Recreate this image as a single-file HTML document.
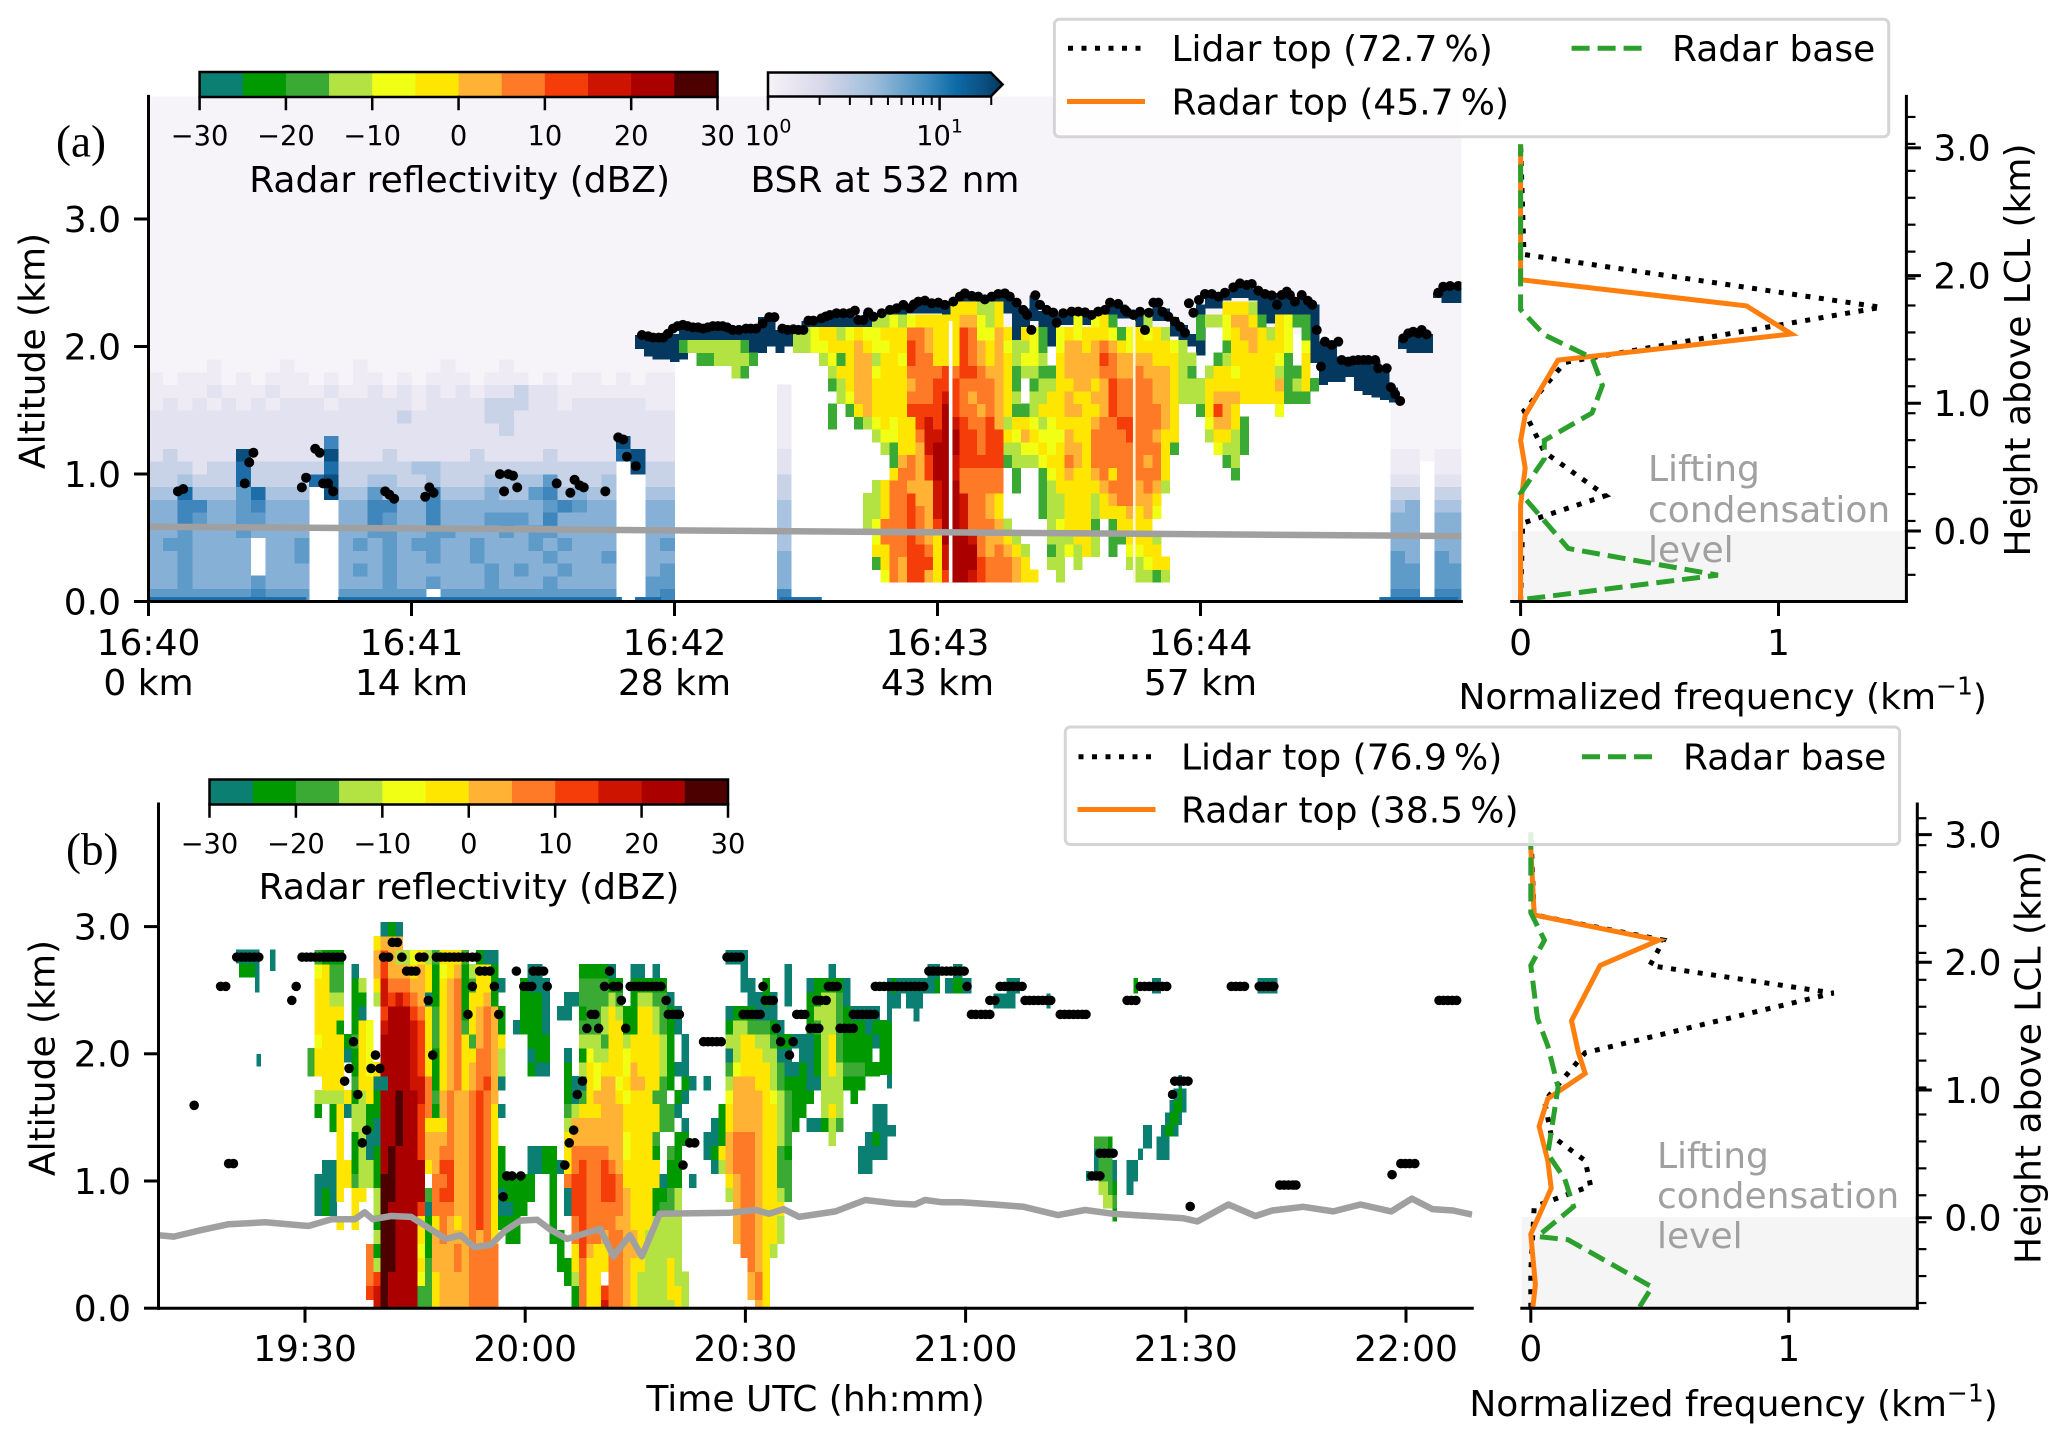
<!DOCTYPE html>
<html lang="en">
<head>
<meta charset="utf-8">
<title>Cloud top and base statistics from radar and lidar</title>
<style>
html,body{margin:0;padding:0;background:#fff;}
svg{display:block;}
text{font-family:"DejaVu Sans","Liberation Sans",sans-serif;font-size:36px;fill:#000;dominant-baseline:central;}
.mid{text-anchor:middle;}
.end{text-anchor:end;}
.small{font-size:27.3px;}
.gray{fill:#a0a0a0;}
.serif{font-family:"Liberation Serif",serif;font-size:45px;}
</style>
</head>
<body>
<svg id="chart" xmlns="http://www.w3.org/2000/svg" width="2067" height="1442" viewBox="0 0 2067 1442">
<defs>
<clipPath id="clip-a"><rect x="148.5" y="96.4" width="1312.9" height="505.1"/></clipPath>
<clipPath id="clip-b"><rect x="158.5" y="804" width="1313.8" height="504.2"/></clipPath>
<linearGradient id="bsr-gradient" x1="0" x2="1" y1="0" y2="0">
<stop offset="0" stop-color="#f6f2f8"/><stop offset=".22" stop-color="#d9d9ea"/><stop offset=".45" stop-color="#9ebddb"/>
<stop offset=".68" stop-color="#3f8dc0"/><stop offset=".8" stop-color="#0d6ba6"/><stop offset=".92" stop-color="#0b4f80"/><stop offset="1" stop-color="#04365c"/>
</linearGradient>
</defs>
<rect x="0" y="0" width="2067" height="1442" fill="#fff"/>

<g id="plot-a" clip-path="url(#clip-a)"></g>
<g id="axes-a"></g>
<g id="cbar-a"></g>
<g id="cbar-bsr">
  <polygon points="768,72.5 990.7,72.5 1002.6,84.5 990.7,96.5 768,96.5" fill="url(#bsr-gradient)" stroke="#000" stroke-width="2.5"/>
</g>
<text class="small mid" x="768" y="135.4">10<tspan font-size="19" dy="-10">0</tspan></text>
<text class="small mid" x="939.6" y="135.4">10<tspan font-size="19" dy="-10">1</tspan></text>
<text class="mid" x="459.6" y="179">Radar reflectivity (dBZ)</text>
<text class="mid" x="885" y="179">BSR at 532 nm</text>
<text class="serif" x="56" y="140">(a)</text>
<text class="mid" transform="translate(33 351) rotate(-90)">Altitude (km)</text>

<rect x="1511.7" y="531" width="394.7" height="70.5" fill="#f5f5f5"/>
<g id="profile-a"></g>
<g id="axes-pa"></g>
<text class="gray" x="1648" y="468">Lifting</text>
<text class="gray" x="1648" y="509">condensation</text>
<text class="gray" x="1648" y="549">level</text>
<text class="mid" x="1722.7" y="696">Normalized frequency (km<tspan font-size="25" dy="-12">−1</tspan><tspan dy="12">)</tspan></text>
<text class="mid" transform="translate(2018.7 350) rotate(-90)">Height above LCL (km)</text>
<g>
  <rect x="1054.4" y="19.3" width="834.3" height="117.5" rx="5" fill="#fff" fill-opacity=".85" stroke="#d5d5d5" stroke-width="3"/>
  <line x1="1068" x2="1144" y1="48.2" y2="48.2" stroke="#000" stroke-width="5" stroke-dasharray="5 8.5"/>
  <text x="1171.5" y="48">Lidar top (72.7&#8201;%)</text>
  <line x1="1067" x2="1145" y1="101.5" y2="101.5" stroke="#ff7f0e" stroke-width="5"/>
  <text x="1171.5" y="101.5">Radar top (45.7&#8201;%)</text>
  <line x1="1571.6" x2="1644" y1="48.2" y2="48.2" stroke="#2ca02c" stroke-width="5" stroke-dasharray="18 8"/>
  <text x="1672" y="48">Radar base</text>
</g>

<g id="plot-b" clip-path="url(#clip-b)"></g>
<g id="axes-b"></g>
<g id="cbar-b"></g>
<text class="mid" x="469" y="886">Radar reflectivity (dBZ)</text>
<text class="serif" x="66" y="848">(b)</text>
<text class="mid" transform="translate(43 1058) rotate(-90)">Altitude (km)</text>
<text class="mid" x="815.6" y="1398">Time UTC (hh:mm)</text>

<rect x="1521.8" y="1217" width="395.5" height="91" fill="#f5f5f5"/>
<g id="profile-b"></g>
<g id="axes-pb"></g>
<text class="gray" x="1657" y="1155">Lifting</text>
<text class="gray" x="1657" y="1195">condensation</text>
<text class="gray" x="1657" y="1235">level</text>
<text class="mid" x="1733.6" y="1403">Normalized frequency (km<tspan font-size="25" dy="-12">−1</tspan><tspan dy="12">)</tspan></text>
<text class="mid" transform="translate(2029 1057.5) rotate(-90)">Height above LCL (km)</text>
<g>
  <rect x="1065.3" y="727" width="834.3" height="117.5" rx="5" fill="#fff" fill-opacity=".85" stroke="#d5d5d5" stroke-width="3"/>
  <line x1="1078.5" x2="1154.5" y1="756.7" y2="756.7" stroke="#000" stroke-width="5" stroke-dasharray="5 8.5"/>
  <text x="1181" y="756.5">Lidar top (76.9&#8201;%)</text>
  <line x1="1077.5" x2="1155.5" y1="809.5" y2="809.5" stroke="#ff7f0e" stroke-width="5"/>
  <text x="1181" y="809.5">Radar top (38.5&#8201;%)</text>
  <line x1="1582" x2="1654.5" y1="756.7" y2="756.7" stroke="#2ca02c" stroke-width="5" stroke-dasharray="18 8"/>
  <text x="1683" y="756.5">Radar base</text>
</g>
</svg>

<script>
/* ---------- colour scales ---------- */
const dbzColors = ["#0a7f72","#009a00","#3aaa35","#b2e342","#f0ff14","#ffe600","#ffb233","#ff7a27","#f53d0a","#cc1400","#aa0000","#4d0000"];
const dbzTicks = [-30,-20,-10,0,10,20,30];
const bsrColors = ["#f6f3f9","#eeebf5","#e2e2f0","#c9d3e8","#aac3e0","#86b0d6","#5f9bc9","#3f86bc","#1d6ea8","#0b4f80"];
const bsrMinorDecades = [2,3,4,5,6,7,8,9,20];
const bsrMajorDecades = [1,10];

/* ---------- panel (a) tick labels ---------- */
const altTicks = [0,1,2,3];
const altTickLabels = ["0.0","1.0","2.0","3.0"];
const timeTicksA = [0,1,2,3,4];
const timeLabelsA = ["16:40","16:41","16:42","16:43","16:44"];
const distLabelsA = ["0 km","14 km","28 km","43 km","57 km"];

/* ---------- panel (a) lidar backscatter ratio: rows from 0.05 km upward, 3.33 s columns, level 0-9, w = no signal ---------- */
const G = "w".repeat(30);
const bsrRowsA = [
"6666666766 6ww666666w 6666666666 66ww67wwww www7wwwwww"+G+"wwwww77w77",
"5565555655 5ww5556556 5556555655 55ww66wwww www5wwwwww"+G+"wwwww66w66",
"5565555w55 5ww5656555 5556565565 55ww56wwww www5wwwwww"+G+"wwwww66w66",
"5565555w55 6ww5556556 5565555655 56ww55wwww www5wwwwww"+G+"wwwww65w65",
"5665555w55 6ww5656566 5565556565 55ww56wwww www4wwwwww"+G+"wwwww55w55",
"5565556555 5ww5566556 6555656655 55ww55wwww www4wwwwww"+G+"wwwww55w55",
"5576556655 5ww5576557 5556665755 55ww55wwww www4wwwwww"+G+"wwwww55w55",
"5577556755 5ww5577557 5555555676 55ww55wwww www4wwwwww"+G+"wwwww45w44",
"4484446844 4w94464447 4445446745 44ww44wwww www3wwwwww"+G+"wwwww33w33",
"3343338333 3893344334 3334444633 34ww33wwww www3wwwwww"+G+"wwwww22w22",
"3332338333 3383333344 3333333333 33w933wwww www2wwwwww"+G+"wwwww11w11",
"2322229222 2292223222 2232222322 228922wwww www2wwwwww"+G+"wwwww11011",
"2222222222 2272222222 2222222222 229222wwww www1wwwwww"+G+"wwwww00000",
"2222222222 2222222222 2222322222 222222wwww www1wwwwww"+G+"wwwww00000",
"2222222222 2222222322 2223322222 222222wwww www1wwwwww"+G+"wwwww00000",
"1212121212 2212222212 2223332212 222211wwww www1wwwwww"+G+"wwwww00000",
"1111211121 1121121212 1212232211 111111wwww www1wwwwww"+G+"wwww000000",
"1011101011 1010110101 1101110101 101011wwww wwwwwwwwww"+G+"wwww000000",
"0000100001 0000100000 1000100000 000000wwww wwwwwwwwww"+G+"wwww000000",
"0000000000 0000000000 0000000000 000000wwww wwwwwwwwww"+G+"w000000000",
"0000000000 0000000000 0000000000 000000wwww wwwwwwwwww"+G+"w000000000",
"0000000000 0000000000 0000000000 0000000000 0000000000 0000000000 0000000000 00ww000000 0000000000",
"0","0","0","0","0","0","0","0","0","0","0","0","0","0","0","0","0","0"
];
const surfaceEchoSpansA = [[0,0.6],[0.72,1.8],[1.85,1.95],[2.4,2.56],[4.68,4.98]];

/* saturated lidar layer under cloud top, one value per 2 s column from 16:41:51 */
const capTopA = [2.09,2.09,2.08,2.08,2.1,2.14,2.17,2.15,2.14,2.16,2.16,2.13,2.14,2.14,2.23,2.2,2.13,2.13,2.14,2.2,2.21,2.25,2.26,2.26,2.27,2.21,2.27,2.25,2.27,2.3,2.33,2.3,2.36,2.36,2.34,2.34,2.36,2.41,2.4,2.39,2.38,2.41,2.41,2.35,2.3,2.4,2.28,2.25,2.25,2.28,2.28,2.27,2.25,2.28,2.34,2.33,2.29,2.25,2.26,2.34,2.3,2.23,2.17,2.1,2.33,2.4,2.41,2.44,2.49,2.48,2.45,2.41,2.4,2.42,2.41,2.38,2.39,2.33,2.04,2.02,1.92,1.89,1.89,1.89,1.89,1.83,1.68,2.05,2.1,2.1,2.1,2.42,2.46,2.46,2.46];
const capBaseA = [1.98,1.92,1.9,1.9,1.88,1.9,2.0,2.05,2.05,2.05,2.05,1.95,1.85,1.85,1.95,2.0,1.95,2.0,2.1,2.12,2.13,2.13,2.13,2.15,2.15,2.15,2.15,2.2,2.22,2.22,2.25,2.26,2.26,2.26,2.26,2.13,2.3,2.3,2.3,2.3,2.3,2.28,2.26,2.05,2.05,2.2,2.0,2.0,2.17,2.17,2.17,2.17,2.17,2.22,2.22,2.22,2.22,2.0,2.2,2.2,2.2,2.08,2.05,2.0,1.93,2.3,2.3,2.36,2.38,2.38,2.36,2.2,2.18,2.2,2.2,2.15,2.2,1.87,1.7,1.72,1.72,1.76,1.65,1.62,1.6,1.58,1.56,1.98,1.95,1.95,1.95,2.38,2.34,2.34,2.34];

/* ---------- panel (a) radar reflectivity: rows from 0.2 km upward, 2 s columns from 16:41:57, codes index dbzColors ---------- */
const D15 = ".".repeat(15);
const radarRowsA = [
D15+".......... 47688658aa 98777655.. 3........ 3323.................",
D15+".........2 57688859aa a877765..3 3.3.....3 3455.................",
D15+".........5 57788759aa a767653..2 34353.2.4 455..................",
D15+".........4 7778765aaa 976653...3 33553.225 553..................",
D15+"........34 7778768aa9 77763....3 45552.255 55...................",
D15+"........33 5778769aa9 7765....23 355535556 564..................",
D15+"........33 5778669aa9 7765....23 355535677 665..................",
D15+".........3 5776669aa7 7777.2..23 555556777 6763.................",
D15+".......... .57768aa97 7777.2..24 565567577 7775.......2.........",
D15+".......... .26768aa98 8888233345 576577777 7675......23.........",
D15+".......... 325569aaa8 8788334454 566577777 77752....4332........",
D15+".........3 4455799aa8 8788546544 465577778 77655...35532........",
D15+"....2..234 5455898a98 7786355434 555567788 77765...46652........",
D15+"....2.2565 5558888a87 7676522355 566556877 77765..25865....4....",
D15+".....34665 5557778987 677653.335 565566877 77665333566655555222.",
D15+"....235665 5556778887 777652.233 556656877 776653335555555562352",
"........32..... ....355664 5557777878 8766523322 566667766 7666532.355455553225.",
"....2233332.... ...3425663 5548775558 765653443. 566668766 6655533..235555542.5.",
"..23333332..... 3344555654 4558765558 765643342. 466567654 555543....25565554.4.",
D15+"3345534544 5557765558 74465.542. 454555424 5453...2..45665354.2.",
D15+".........3 3434555556 6435...... ..4.452.. .3.....23346652.5422.",
D15+".......... ........55 5335...... ......... ..........5553......."
];
const radarGapTimesA = [3.05,3.75];

/* ---------- panel (a) lidar cloud-top detections: [minutes after 16:40, km] ---------- */
const lidarTopA = [
[.112,.864],[.132,.882],[.366,.926],[.383,1.091],[.399,1.167],[.583,.895],[.599,.971],[.634,1.198],[.651,1.167],[.664,.926],[.683,.926],[.702,.864],[.9,.864],[.916,.838],[.934,.806],[1.052,.822],[1.068,.895],[1.084,.853],[1.336,.999],[1.352,.864],[1.368,.999],[1.386,.987],[1.402,.895],[1.552,.926],[1.604,.853],[1.62,.955],[1.639,.911],[1.655,.895],[1.737,.864],[1.786,1.287],[1.805,1.271],[1.819,1.136],[1.853,1.062],
[1.876,2.09],[1.9,2.08],[1.919,2.07],[1.94,2.07],[1.957,2.07],[1.975,2.1],[1.994,2.14],[2.012,2.16],[2.032,2.17],[2.05,2.16],[2.07,2.15],[2.09,2.15],[2.108,2.14],[2.127,2.15],[2.146,2.16],[2.165,2.16],[2.183,2.16],[2.2,2.15],[2.221,2.13],[2.245,2.13],[2.272,2.14],[2.29,2.14],[2.31,2.14],[2.335,2.18],[2.36,2.23],[2.38,2.23],[2.41,2.14],[2.43,2.13],[2.452,2.135],[2.471,2.13],[2.49,2.13],[2.509,2.203],[2.528,2.203],[2.559,2.221],[2.575,2.235],[2.591,2.247],[2.616,2.261],[2.642,2.261],[2.667,2.261],[2.686,2.281],[2.699,2.208],[2.718,2.208],[2.737,2.268],[2.756,2.234],[2.788,2.261],[2.819,2.287],[2.845,2.3],[2.87,2.326],[2.895,2.3],[2.91,2.33],[2.927,2.352],[2.952,2.36],[2.978,2.339],[3.003,2.344],[3.028,2.326],[3.06,2.352],[3.085,2.391],[3.104,2.417],[3.13,2.397],[3.155,2.391],[3.18,2.37],[3.206,2.391],[3.231,2.412],[3.256,2.417],[3.275,2.391],[3.301,2.344],[3.326,2.287],[3.341,2.247],[3.357,2.13],[3.372,2.402],[3.39,2.326],[3.415,2.287],[3.44,2.266],[3.453,2.187],[3.478,2.261],[3.51,2.274],[3.535,2.274],[3.561,2.268],[3.586,2.247],[3.611,2.274],[3.637,2.287],[3.656,2.344],[3.687,2.334],[3.713,2.287],
[3.719,2.273],[3.745,2.247],[3.77,2.273],[3.789,2.129],[3.804,2.265],[3.821,2.344],[3.84,2.344],[3.855,2.273],[3.878,2.234],[3.903,2.195],[3.922,2.156],[3.941,2.108],[3.956,2.339],[3.973,2.265],[3.994,2.365],[4.017,2.412],[4.043,2.412],[4.068,2.391],[4.093,2.422],[4.125,2.464],[4.15,2.495],[4.176,2.482],[4.195,2.49],[4.22,2.438],[4.245,2.412],[4.271,2.401],[4.291,2.328],[4.309,2.404],[4.328,2.43],[4.34,2.404],[4.359,2.352],[4.385,2.404],[4.408,2.359],[4.425,2.328],[4.442,2.129],[4.458,1.842],[4.473,2.038],[4.499,2.012],[4.524,2.038],[4.537,1.894],[4.562,1.881],[4.58,1.89],[4.6,1.894],[4.62,1.894],[4.638,1.894],[4.664,1.894],[4.676,1.829],[4.708,1.829],[4.724,1.68],[4.74,1.627],[4.759,1.573],[4.771,2.064],[4.79,2.103],[4.809,2.116],[4.828,2.103],[4.841,2.129],[4.86,2.095],[4.904,2.422],[4.923,2.469],[4.949,2.475],[4.98,2.475]
];

/* ---------- lifting condensation level ---------- */
const lclTimesA = [0,1,2,3,4,5];
const lclAltsA = [.587,.573,.558,.543,.528,.513];
const lclTimesB = [10.04,12.12,15.55,19.61,24.58,30.46,33.62,36.78,38.13,39.22,41.75,44.46,46.26,49.15,51.23,53.04,55.3,57.28,59.36,61.62,63.43,65.69,70.2,72.01,74.27,75.89,78.33,87.82,91.43,93.24,95.22,97.3,102.27,106.33,110.4,113.11,114.47,116.73,119.44,123.95,127.9,132.6,136.3,140,149.7,151.6,155.8,159.5,161.8,166,170.1,173.8,178,180.8,183.6,186.4,189];
const lclAltsB = [.573,.563,.61,.66,.675,.646,.7,.7,.754,.7,.725,.718,.653,.545,.573,.48,.498,.61,.689,.696,.617,.545,.624,.407,.573,.407,.743,.75,.772,.743,.779,.718,.761,.851,.823,.815,.851,.833,.833,.815,.797,.732,.772,.743,.707,.682,.815,.725,.768,.797,.761,.815,.761,.862,.779,.768,.736];

/* ---------- panel (a) normalized-frequency profiles ---------- */
const freqTicks = [0,1];
const heightTicks = [0,1,2,3];
const heightLabels = ["0.0","1.0","2.0","3.0"];
const lidarFreqA = [0,.008,.33,.092,.013,.172,1.398,.013,0];
const lidarHeightA = [-.55,.061,.277,.619,.942,1.32,1.752,2.165,3.03];
const radarTopFreqA = [0,0,.018,0,.018,.145,1.05,.876,0,0];
const radarTopHeightA = [-.55,.205,.493,.709,.906,1.338,1.543,1.763,1.968,3.029];
const radarBaseFreqA = [.026,.765,.185,0,.092,.092,.277,.317,.277,.092,0,0];
const radarBaseHeightA = [-.532,-.345,-.137,.295,.565,.709,.924,1.14,1.356,1.536,1.734,3.029];

/* ---------- panel (b) tick labels ---------- */
const timeTicksB = [30,60,90,120,150,180];
const timeLabelsB = ["19:30","20:00","20:30","21:00","21:30","22:00"];

/* ---------- panel (b) radar reflectivity: rows at 0.11 km spacing from 0.01 km, 1 min columns from 19:29:19 ---------- */
const radarRowsB = [
".......... 9baaaa2256 6667777... .......175 5977653333 353....... ..65...... ..........",
".........8 9baaaa2256 6667777... .......175 5877653333 553....... .675...... ..........",
".........7 8baaaa4256 6667777... ......1375 5.77653333 533....... .675...... ..........",
".........7 3bbaaa5266 6767777... .....11575 5577655333 53........ .765...... ..........",
".........7 1bbaaa4166 6767777... .....1.586 5577665333 33........ 77653..... ..........",
".......... 3bbaaa5167 6667675.11 ....11.787 7677665333 33.......6 776553.... ..........",
".....5.5.. 1bbaaa5157 6567875111 ....1..787 7776655533 33.......6 776553.... ..........",
"..010..5.. 3baaaa8077 7667875001 1...1.0887 7777655512 23.......6 776555.... ..........",
"..0105.55. 3bbaaaa278 8667875011 11..1.0887 7887655511 23......36 7765532... ..........",
"..00055233 1bbaaaa.77 8667875111 11..1.7887 7887555550 11.0....56 7765522... ..........",
"...0055133 1abaaaa568 86678751.. .001105787 787655555. 11....0367 7765522... ......00..",
".....5.130 1abaaa8667 76678751.. .0011.5777 776645551. 21...01567 7765521... ......0000",
".....5.130 0aabaa8666 7667875... ......5666 666645552. .11..00167 7765532... ..3....010",
"....15.331 0aabaa8555 7667875... ......3666 6666555552 2.0...0156 66655321.0 0132....00",
"..1.150331 1aabaa8716 76678750.. ......2355 5666555552 20.....156 666553211. .353....00",
"..33335135 1aabaa9726 7667876... ......1025 6665455522 .10.....46 6665432111 .333.1....",
"...555.255 00aaa99715 67567860.. ......1005 4664566552 1.10.0..36 6655321110 0333111...",
".25555.154 5aaaa98515 67567763.. .100..1.35 4555465553 100.....24 5555320010 135322211.",
".255550154 .aaaa98515 67557763.. .011..0.14 3355455553 1.0.....03 5553300.00 13521111.1",
"..45551254 .aaaa98525 67526765.. .111....33 3255355553 1.0.....33 5533211000 1352111101",
"..5551.154 .9aaa98525 67256761.0 1110....22 2355115532 10......13 322210...1 2332111011",
"..5555.10. .8aaa87525 67156761.. 1110.00.12 2353115532 10......01 11000....1 333210000.",
"..5533.11. 3989876015 6715561... 1110..0022 2232.13322 0......... .0010.0..1 13320.....",
"..5522.13. 5977766515 67125510.. 1000....22 2211.11111 .......... 00.1..0..0 11110.....",
"..4522.0.. 6866656514 5613551... .00.....11 110..00.0. .......... 0.....0... ..0.......",
"..2111.... 6863345325 552.100... .......... .......... ........00 0......... ..........",
".......... 5666...... .......... ..........",
".......... .010...... .......... .........."
];
/* sparse echoes outside the main grid: [start min, end min, low km, high km, code] */
const radarPatchesB = [
[20.6,23.8,2.71,2.82,0],[21,23.2,2.6,2.71,1],[23.2,23.8,2.48,2.71,0],[25.2,26,2.65,2.82,0],[23.4,24,1.9,2,0],
[114.8,116.5,2.594,2.706,0],[118.3,119.6,2.594,2.706,0],[109.3,115.8,2.476,2.594,0],[110,110.5,2.476,2.594,1],[115.8,116.5,2.476,2.594,1],[117.2,120.8,2.476,2.594,0],[118.3,119.6,2.476,2.594,1],[125.6,127.4,2.476,2.594,0],[142.9,143.5,2.476,2.594,1],[145.4,146.6,2.476,2.594,0],[159.8,162.5,2.476,2.594,0],
[109.3,111.2,2.358,2.476,0],[111.9,114.2,2.358,2.476,0],[123.8,126.8,2.358,2.476,0],[131,131.6,2.358,2.476,0],[109.3,110,2.253,2.358,0],[112.9,113.7,2.253,2.358,0],
[108.3,110,1.834,2.253,1],[109.3,110,1.729,1.834,0],[108.3,108.8,1.166,1.538,0],[109.3,110.5,1.349,1.441,0],
[137.5,140,1.257,1.349,2],[139.4,140,1.257,1.349,1],[137.5,138.1,1.061,1.257,0],[138.1,140,.995,1.257,2],[140,140.6,.995,1.166,0],[136.4,136.9,1,1.08,0],[138.1,139.4,.89,.995,3],[139.4,140,.89,.995,2],[140,140.6,.89,.995,1],[138.7,140,.785,.89,3],[140,140.6,.785,.89,2],[140,140.6,.681,.785,1],
[141.9,143.5,.995,1.166,0],[141.9,142.9,.89,.995,0],[143.5,144.2,1.166,1.257,0],[144.2,145.4,1.257,1.441,0],[146,147.8,1.166,1.349,0],[146.6,147.2,1.349,1.441,0],[147.2,148.3,1.349,1.441,1],[148.3,149,1.349,1.441,0],[147.2,147.8,1.441,1.538,0],[147.8,149,1.441,1.538,1],[149,149.5,1.441,1.538,0],[147.8,148.3,1.538,1.637,0],[148.3,149.5,1.538,1.637,1],[149.5,150.1,1.538,1.637,0],[148.3,149,1.637,1.729,0],[149,149.5,1.637,1.729,1],[149.5,150.1,1.637,1.729,0],[149,149.5,1.729,1.834,0]
];

/* ---------- panel (b) lidar cloud-top detections: [km, minutes after 19:00 ...] ---------- */
const lidarTopB = [
[2.876,[41.9,42.6]],
[2.76,[20.7,21.3,21.9,22.5,23.1,23.7,29.6,30.2,30.8,31.4,32,32.6,33.2,33.8,34.4,35,40.7,41.4,43.2,45.6,46.2,47.9,48.5,49.1,49.7,50.3,50.9,51.5,52.1,52.8,53.4,87.5,88.1,88.7,89.3]],
[2.65,[43.85,44.5,45.1,53.8,54.5,55.2,58.8,61.1,61.8,62.5,71.5,115,115.6,116.2,116.8,117.4,118,118.6,119.2,119.8]],
[2.53,[18.5,19.2,28.8,52.8,55.8,59.8,60.4,60.9,63,70.8,72,72.7,74.3,74.9,75.5,76.1,76.7,77.3,77.9,78.5,92.4,101.3,101.9,102.5,107.7,108.3,108.9,109.5,110.1,110.7,111.3,111.9,112.5,113.1,113.7,114.3,120.2,124.7,125.3,125.9,126.5,127.1,127.7,143.8,144.4,145,145.6,146.2,146.8,147.4,156.2,156.8,157.4,158,160,160.6,161.2,161.8,162]],
[2.42,[28.2,46.8,73.1,79.2,92.7,93.3,93.8,99.7,100.3,101,123.3,124,128.1,128.7,129.3,129.9,130.5,131.1,131.6,142,142.6,143.2,184.5,185.1,185.7,186.3,186.9]],
[2.31,[52.2,56.4,69,69.5,79.5,80.1,80.7,81,89.7,90.3,90.9,91.5,92,97,97.6,98.1,104.7,105.3,105.9,106.5,107,107.6,120.8,121.4,122.1,122.7,123.3,132.9,133.5,134.1,134.7,135.3,135.9,136.4]],
[2.2,[68.4,70,73.7,94.2,98.8,99.5,100,102.9,103.5,104.1,104.7]],
[2.095,[36.6,84.3,84.9,85.5,86.1,86.7,94.8,96.5]],
[1.99,[39.6,47.4,96]],
[1.885,[36,39,40.2]],
[1.785,[35.4,67.8,148.5,149.1,149.7,150.3]],
[1.68,[37.2,67.1,148.2]],
[1.595,[14.9]],
[1.4,[38.4,66.6]],
[1.3,[37.8,66,82.4,83.1]],
[1.218,[138.3,138.9,139.5,140.1]],
[1.137,[19.6,20.25,179.3,179.9,180.5,181.2]],
[1.125,[65.4,81.5]],
[1.05,[178.1]],
[1.04,[57.5,58.2,59.4,137.2,137.8,138.3]],
[.968,[162.8,163.4,164,164.6,165]],
[.876,[57]],
[.8,[150.6]]
];

/* ---------- panel (b) normalized-frequency profiles ---------- */
const lidarFreqB = [0,0,.013,.232,.211,.079,.053,.211,1.174,.462,.515,.013,0];
const lidarHeightB = [-.705,-.417,.086,.248,.446,.644,.914,1.291,1.759,1.975,2.173,2.371,3.018];
const radarTopFreqB = [.008,.018,0,.079,.066,.032,.066,.211,.185,.158,.269,.496,.013,0];
const radarTopHeightB = [-.698,-.525,-.129,.23,.446,.716,.932,1.129,1.291,1.543,1.975,2.173,2.371,2.892];
const radarBaseFreqB = [.422,.47,.145,.026,.166,.132,.066,.106,.066,.026,0,.053,0,0];
const radarBaseHeightB = [-.698,-.543,-.173,-.147,.086,.302,.5,1.022,1.345,1.561,1.975,2.173,2.388,3.018];

/* ---------- axis functions ---------- */
const xA = t => 148.5 + 263 * t;
const yA = a => 601.5 - 127.5 * a;
const xB = t => 305 + 7.34 * (t - 30);
const yB = a => 1308.2 - 127.2 * a;
const fxA = f => 1520.6 + 257.9 * f;
const hyA = h => 531 - 127.7 * h;
const fxB = f => 1530.8 + 257.9 * f;
const hyB = h => 1217.7 - 127.7 * h;

const NS = "http://www.w3.org/2000/svg";
function make(tag, parent, attrs) {
  const el = document.createElementNS(NS, tag);
  for (const k in attrs) el.setAttribute(k, attrs[k]);
  parent.appendChild(el);
  return el;
}
const byId = id => document.getElementById(id);
const clean = s => s.replace(/ /g, "");

/* ---------- panel (a) BSR grid ---------- */
const plotA = byId("plot-a");
bsrRowsA.forEach((raw, r) => {
  const row = clean(raw);
  const top = yA(0.1 * (r + 1)), bot = yA(0.1 * r);
  if (row.length === 1) {
    const el = make("rect", plotA, {x: 148.5, y: top - 0.3, width: 1313, height: bot - top + 0.6, fill: bsrColors[+row], "shape-rendering": "crispEdges"});
    
    
    return;
  }
  let k = 0;
  while (k < row.length) {
    let e = k;
    while (e < row.length && row[e] === row[k]) e++;
    if (row[k] !== "w") {
      const x0 = xA(k * 5 / 90), x1 = xA(e * 5 / 90);
      const el = make("rect", plotA, {x: x0, y: top - 0.3, width: x1 - x0 + 0.3, height: bot - top + 0.6, fill: bsrColors[+row[k]], "shape-rendering": "crispEdges"});
      
      
    }
    k = e;
  }
});
surfaceEchoSpansA.forEach(s => {
  const el = make("rect", plotA, {x: xA(s[0]), y: yA(0.035), width: xA(s[1]) - xA(s[0]), height: yA(0) - yA(0.035), fill: bsrColors[8]});
  
  
});
capTopA.forEach((top, j) => {
  const x0 = xA(1.85 + j / 30);
  const el = make("rect", plotA, {x: x0, y: yA(top), width: xA(1 / 30) - xA(0) + 0.4, height: yA(capBaseA[j]) - yA(top), fill: "#04385f", "shape-rendering": "crispEdges"});
  
  
});

/* ---------- panel (a) radar grid ---------- */
radarRowsA.forEach((raw, r) => {
  const row = clean(raw);
  const alt = 0.2 + 0.1 * r;
  let i = 0;
  while (i < row.length) {
    let e = i;
    while (e < row.length && row[e] === row[i]) e++;
    if (row[i] !== ".") {
      const x0 = xA(1.95 + i / 30), x1 = xA(1.95 + e / 30);
      const el = make("rect", plotA, {x: x0, y: yA(alt + 0.05) - 0.2, width: x1 - x0 + 0.2, height: yA(alt - 0.05) - yA(alt + 0.05) + 0.4, fill: dbzColors[parseInt(row[i], 12)], "shape-rendering": "crispEdges"});
      
      
    }
    i = e;
  }
});
radarGapTimesA.forEach((t, n) => {
  const el = make("rect", plotA, {x: xA(t) - 1.8, y: yA(2.2), width: n === 0 ? 3.6 : 2.6, height: yA(0.15) - yA(2.2), fill: n === 0 ? "#fff" : "#fff3d8"});
  
  
});

function linePath(xs, ys, fx, fy) {
  return xs.map((v, i) => (i ? "L" : "M") + fx(v).toFixed(1) + " " + fy(ys[i]).toFixed(1)).join(" ");
}
const lclA = make("path", plotA, {d: linePath(lclTimesA, lclAltsA, xA, yA), fill: "none", stroke: "#a0a0a0", "stroke-width": 6.5});


lidarTopA.forEach(p => {
  const el = make("ellipse", plotA, {cx: xA(p[0]), cy: yA(p[1]), rx: 5, ry: 5, fill: "#000"});
  
  
});

/* ---------- panel (b) radar ---------- */
const plotB = byId("plot-b");
radarRowsB.forEach((raw, n) => {
  const row = clean(raw);
  const alt = 0.01 + 0.11 * n;
  let j = 0;
  while (j < row.length) {
    let e = j;
    while (e < row.length && row[e] === row[j]) e++;
    if (row[j] !== ".") {
      const x0 = xB(29.32 + j), x1 = xB(29.32 + e);
      const el = make("rect", plotB, {x: x0, y: yB(alt + 0.055) - 0.2, width: x1 - x0 + 0.2, height: yB(alt - 0.055) - yB(alt + 0.055) + 0.4, fill: dbzColors[parseInt(row[j], 12)], "shape-rendering": "crispEdges"});
      
      
    }
    j = e;
  }
});
radarPatchesB.forEach(p => {
  const el = make("rect", plotB, {x: xB(p[0]), y: yB(p[3]), width: xB(p[1]) - xB(p[0]), height: yB(p[2]) - yB(p[3]), fill: dbzColors[p[4]], "shape-rendering": "crispEdges"});
  
  
});
const lclB = make("path", plotB, {d: linePath(lclTimesB, lclAltsB, xB, yB), fill: "none", stroke: "#a0a0a0", "stroke-width": 6.5, "stroke-linejoin": "round"});


lidarTopB.forEach(group => {
  group[1].forEach(t => {
    const el = make("circle", plotB, {cx: xB(t), cy: yB(group[0]), r: 4.8, fill: "#000"});
    
    
  });
});

/* ---------- axes ---------- */
function spine(parent, x1, y1, x2, y2, w) {
  return make("line", parent, {x1, y1, x2, y2, stroke: "#000", "stroke-width": w || 3, "stroke-linecap": "square"});
}
function label(parent, x, y, txt, cls) {
  const el = make("text", parent, {x, y, class: cls});
  el.textContent = txt;
  return el;
}
function curtainAxes(parent, left, right, top, bottom, xf, yf, xTicks, xLabels, xLabels2, labelY, yLabelX) {
  const s1 = spine(parent, left, top, left, bottom);
  
  
  const s2 = spine(parent, left, bottom, right, bottom);
  
  
  altTicks.forEach((a, i) => {
    const tk = spine(parent, left - 13, yf(a), left, yf(a));
    
    
    const tl = label(parent, yLabelX, yf(a), altTickLabels[i], "end");
    
    
  });
  xTicks.forEach((t, i) => {
    const tk = spine(parent, xf(t), bottom, xf(t), bottom + 13);
    
    
    const tl = label(parent, xf(t), labelY, xLabels[i], "mid");
    
    
    if (xLabels2) {
      const dl = label(parent, xf(t), labelY + 40, xLabels2[i], "mid");
      
      
    }
  });
}
curtainAxes(byId("axes-a"), 148.5, 1461.4, 96.4, 601.5, xA, yA, timeTicksA, timeLabelsA, distLabelsA, 642, 121);
curtainAxes(byId("axes-b"), 158.5, 1472.3, 804, 1308.2, xB, yB, timeTicksB, timeLabelsB, null, 1348, 131);

function profileAxes(parent, left, right, top, bottom, fx, hy, minorStart, labelY) {
  const s1 = spine(parent, right, top, right, bottom);
  
  
  const s2 = spine(parent, left, bottom, right, bottom);
  
  
  for (let k = 0; k < 19; k++) {
    const h = minorStart + 0.2109 * k;
    if (hy(h) < top || hy(h) > bottom) continue;
    const tk = spine(parent, right, hy(h), right + 8, hy(h), 2.2);
    
    
  }
  heightTicks.forEach((h, i) => {
    const tk = spine(parent, right, hy(h), right + 13, hy(h));
    
    
    const tl = label(parent, right + 27, hy(h), heightLabels[i], "");
    
    
  });
  freqTicks.forEach(f => {
    const tk = spine(parent, fx(f), bottom, fx(f), bottom + 13);
    
    
    const tl = label(parent, fx(f), labelY, String(f), "mid");
    
    
  });
}
profileAxes(byId("axes-pa"), 1511.7, 1906.4, 96.4, 601.5, fxA, hyA, -.554, 642);
profileAxes(byId("axes-pb"), 1521.8, 1917.3, 804, 1308.2, fxB, hyB, -.668, 1348);

/* ---------- profiles ---------- */
function drawProfiles(parent, fx, hy, lf, lh, tf, th, bf, bh) {
  const a = make("path", parent, {d: linePath(lf, lh, fx, hy), fill: "none", stroke: "#000", "stroke-width": 5, "stroke-dasharray": "5 8.5"});
  
  
  const b = make("path", parent, {d: linePath(tf, th, fx, hy), fill: "none", stroke: "#ff7f0e", "stroke-width": 5});
  
  
  const c = make("path", parent, {d: linePath(bf, bh, fx, hy), fill: "none", stroke: "#2ca02c", "stroke-width": 5, "stroke-dasharray": "18 8"});
  
  
}
drawProfiles(byId("profile-a"), fxA, hyA, lidarFreqA, lidarHeightA, radarTopFreqA, radarTopHeightA, radarBaseFreqA, radarBaseHeightA);
drawProfiles(byId("profile-b"), fxB, hyB, lidarFreqB, lidarHeightB, radarTopFreqB, radarTopHeightB, radarBaseFreqB, radarBaseHeightB);

/* ---------- colorbars ---------- */
function reflectivityBar(parent, left, right, top, bottom, labelY) {
  const dx = (right - left) / dbzColors.length;
  dbzColors.forEach((c, i) => {
    const el = make("rect", parent, {x: left + i * dx, y: top, width: dx + 0.3, height: bottom - top, fill: c});
    
    
  });
  const frame = make("rect", parent, {x: left, y: top, width: right - left, height: bottom - top, fill: "none", stroke: "#000", "stroke-width": 2.5});
  
  
  dbzTicks.forEach(v => {
    const x = left + (v + 30) / 60 * (right - left);
    const tk = spine(parent, x, bottom, x, bottom + 12, 2.5);
    
    
    const tl = label(parent, x, labelY, String(v).replace("-", "\u2212"), "small mid");
    
    
  });
}
reflectivityBar(byId("cbar-a"), 199.6, 717.5, 72, 97, 135.4);
reflectivityBar(byId("cbar-b"), 209.5, 728, 779.5, 804.5, 843);

const bsrBar = byId("cbar-bsr");
const bsrX = v => 768 + 171.6 * Math.log10(v);
bsrMajorDecades.forEach(v => {
  const tk = spine(bsrBar, bsrX(v), 97, bsrX(v), 109, 2.5);
  
  
});
bsrMinorDecades.forEach(v => {
  const tk = spine(bsrBar, bsrX(v), 97, bsrX(v), 104, 2);
  
  
});

/* nudge horizontal text to match baseline placement */
document.querySelectorAll("text[y]").forEach(t => {
  t.setAttribute("y", parseFloat(t.getAttribute("y")) + 1.3);
});
</script>
</body>
</html>
